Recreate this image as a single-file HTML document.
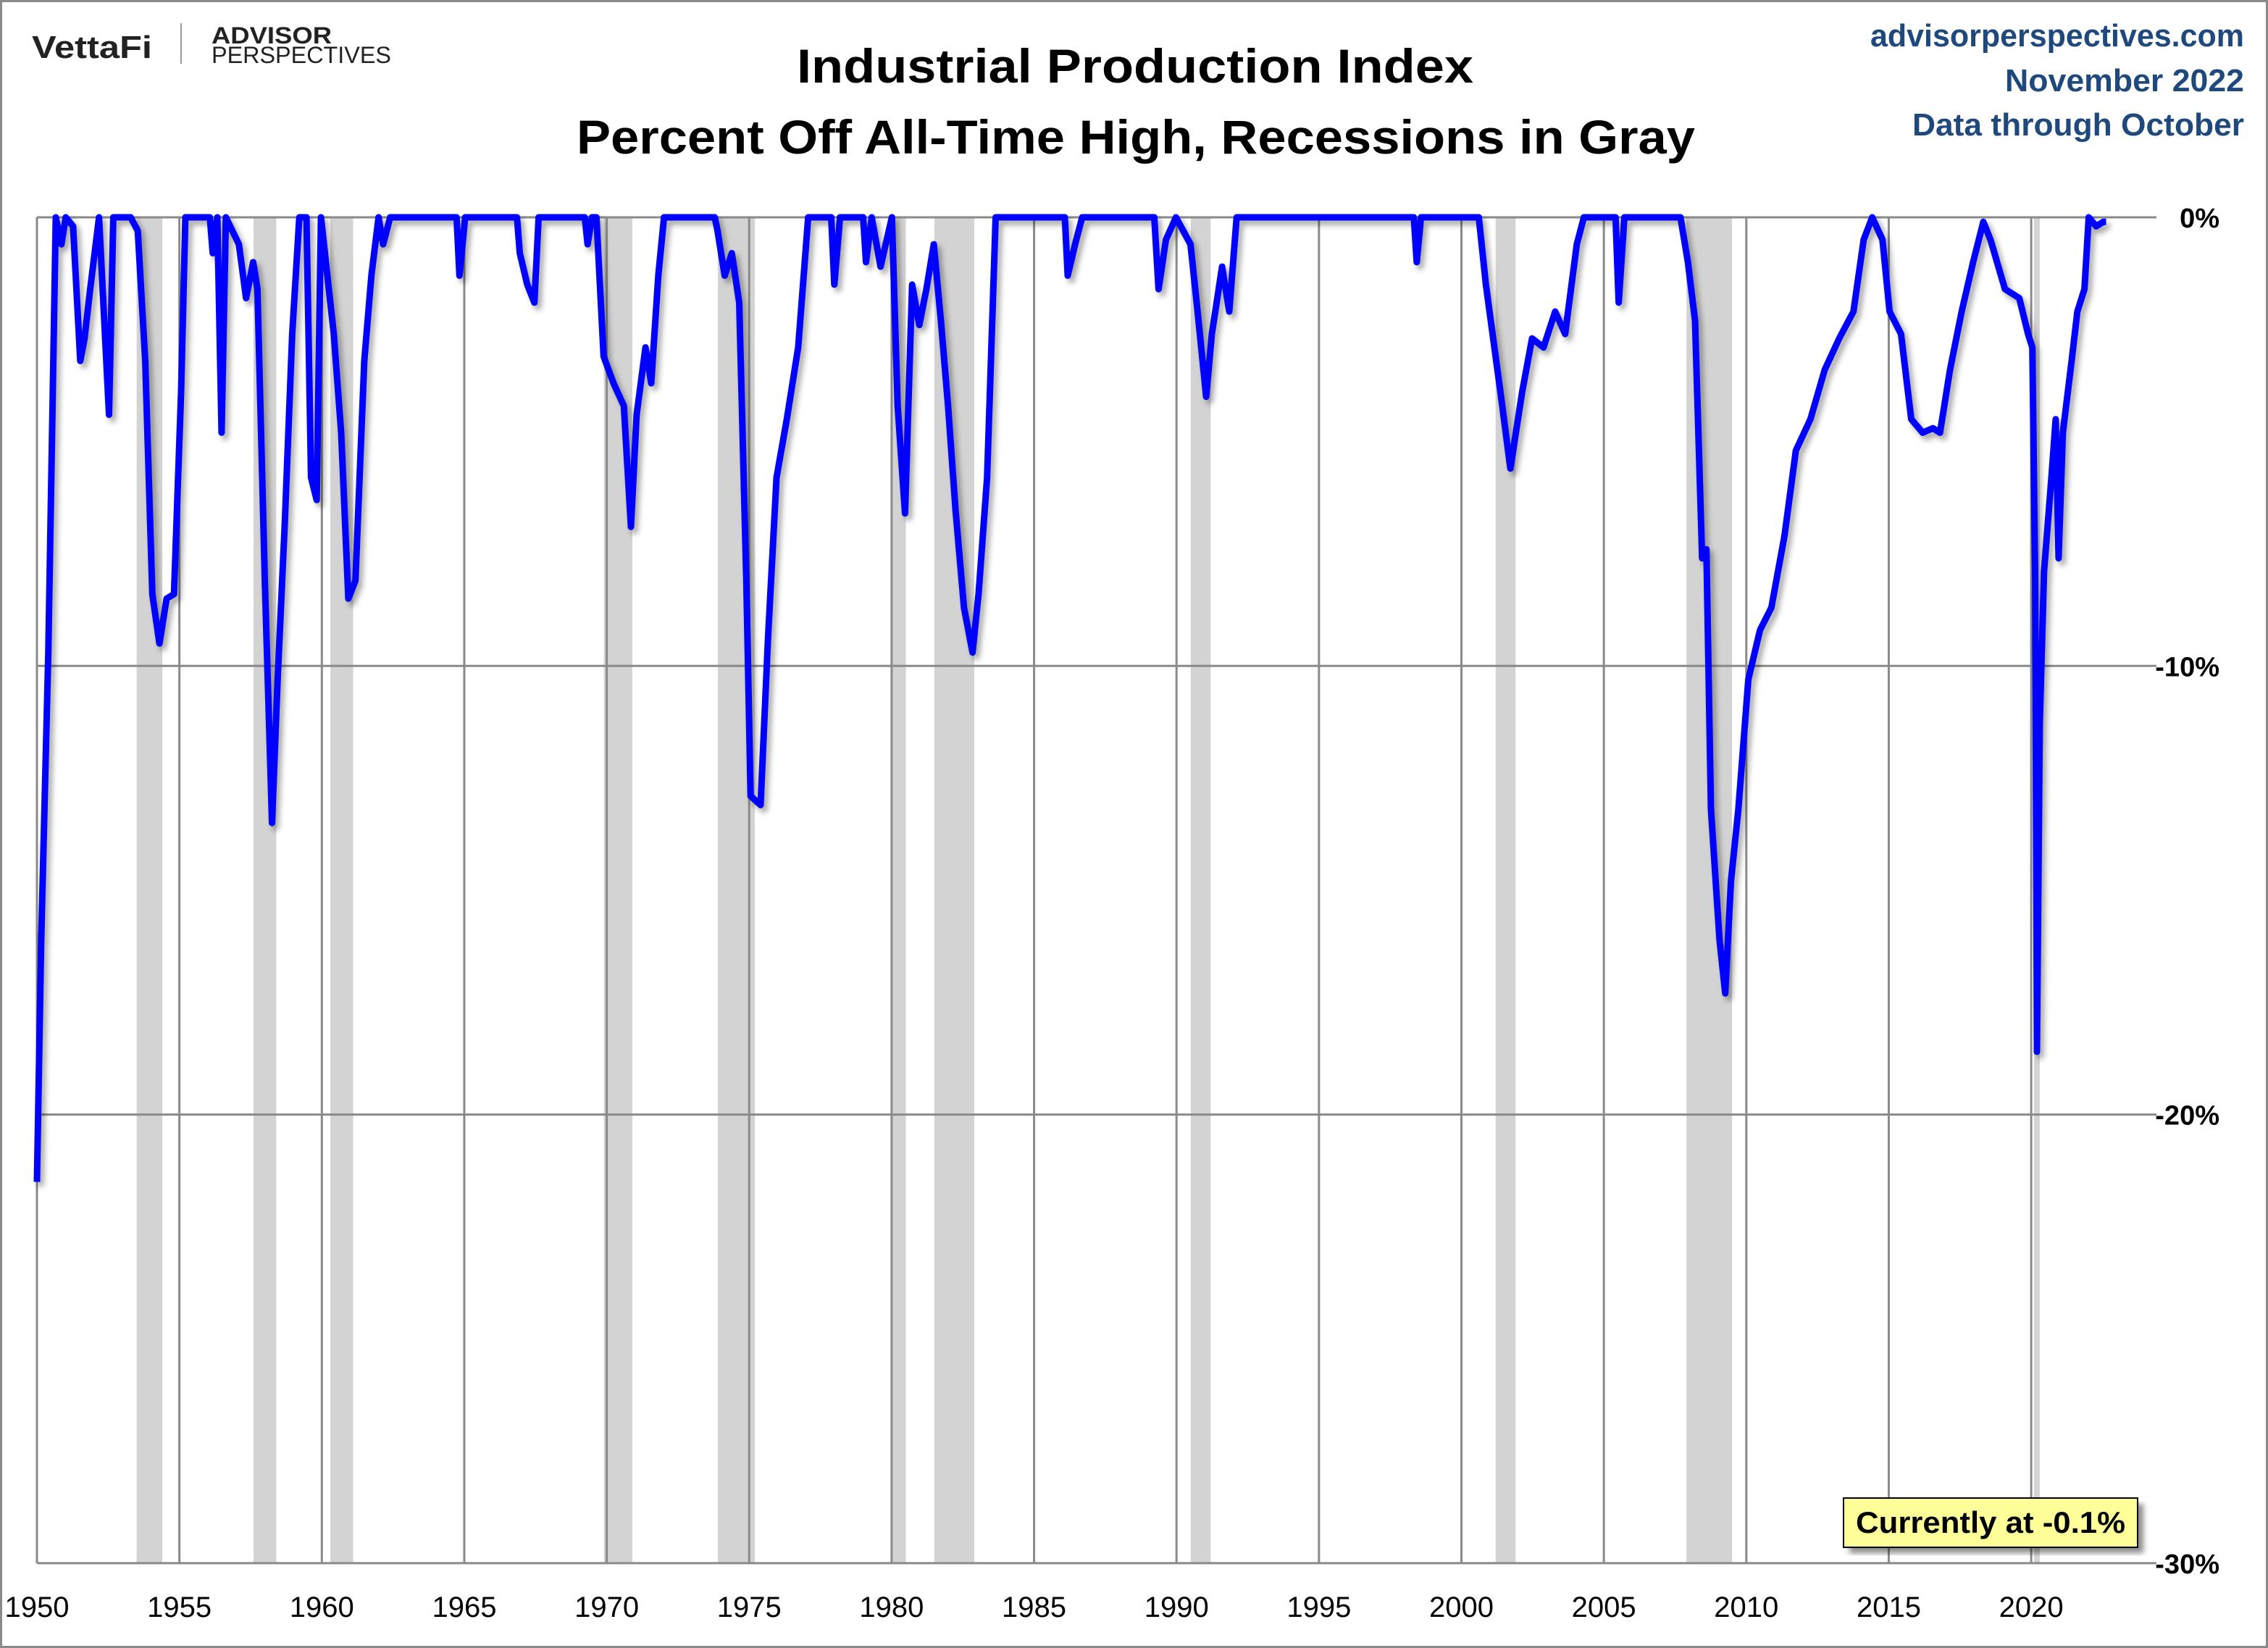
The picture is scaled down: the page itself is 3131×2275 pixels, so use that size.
<!DOCTYPE html>
<html><head><meta charset="utf-8"><style>
html,body{margin:0;padding:0;background:#fff}
svg{display:block}
text{font-family:"Liberation Sans Narrow","Liberation Sans",sans-serif}
</style></head><body>
<svg id="chart" width="3131" height="2275" viewBox="0 0 3131 2275" xmlns="http://www.w3.org/2000/svg">
<defs><filter id="sh" x="-5%" y="-5%" width="110%" height="110%"><feGaussianBlur stdDeviation="4"/></filter></defs>
<rect x="1.5" y="1.5" width="3128" height="2272" fill="#fff" stroke="#8a8a8a" stroke-width="3"/>
<g>
<text x="44" y="80" font-size="44" font-weight="bold" fill="#222" textLength="166" lengthAdjust="spacingAndGlyphs">VettaFi</text>
<line x1="250" y1="32" x2="250" y2="88" stroke="#999" stroke-width="2"/>
<text x="292" y="60" font-size="32" font-weight="bold" fill="#222" textLength="166" lengthAdjust="spacingAndGlyphs">ADVISOR</text>
<text x="292" y="87" font-size="32" fill="#222" textLength="248" lengthAdjust="spacingAndGlyphs">PERSPECTIVES</text>
</g>
<text x="1567" y="114" font-size="66" font-weight="bold" text-anchor="middle" textLength="934" lengthAdjust="spacingAndGlyphs">Industrial Production Index</text>
<text x="1568" y="212" font-size="66" font-weight="bold" text-anchor="middle" textLength="1544" lengthAdjust="spacingAndGlyphs">Percent Off All-Time High, Recessions in Gray</text>
<text x="3098" y="64" font-size="44" font-weight="bold" fill="#1f497d" text-anchor="end" textLength="516" lengthAdjust="spacingAndGlyphs">advisorperspectives.com</text>
<text x="3098" y="126" font-size="44" font-weight="bold" fill="#1f497d" text-anchor="end" textLength="330" lengthAdjust="spacingAndGlyphs">November 2022</text>
<text x="3098" y="187" font-size="44" font-weight="bold" fill="#1f497d" text-anchor="end" textLength="458" lengthAdjust="spacingAndGlyphs">Data through October</text>
<g id="recessions"></g>
<g id="grid"></g>
<g id="series"></g>
<g id="labels"></g>
<g>
<rect x="2553" y="2076" width="406" height="68" fill="#000" opacity="0.45" filter="url(#sh)"/>
<rect x="2545" y="2068" width="406" height="68" fill="#ffff99" stroke="#000" stroke-width="2"/>
<text x="2748" y="2116" font-size="42" font-weight="bold" text-anchor="middle" textLength="372" lengthAdjust="spacingAndGlyphs">Currently at -0.1%</text>
</g>
</svg>
<script>
const years = [1950.00,1950.15,1950.40,1950.66,1950.86,1951.01,1951.27,1951.52,1951.67,1951.87,1952.18,1952.53,1952.68,1953.29,1953.54,1953.80,1954.05,1954.30,1954.55,1954.81,1955.06,1955.21,1956.07,1956.17,1956.33,1956.48,1956.63,1957.09,1957.34,1957.59,1957.74,1958.00,1958.25,1958.45,1958.70,1958.96,1959.21,1959.46,1959.62,1959.82,1959.97,1960.42,1960.68,1960.93,1961.18,1961.49,1961.74,1961.99,1962.15,1962.40,1964.73,1964.83,1965.03,1966.85,1966.95,1967.21,1967.46,1967.61,1969.23,1969.33,1969.48,1969.64,1969.89,1970.24,1970.60,1970.85,1971.05,1971.36,1971.56,1971.81,1972.01,1973.79,1973.89,1974.14,1974.39,1974.65,1974.90,1975.05,1975.40,1975.66,1975.96,1976.32,1976.72,1977.07,1977.88,1977.99,1978.19,1979.00,1979.10,1979.30,1979.61,1980.01,1980.21,1980.47,1980.72,1980.97,1981.22,1981.48,1981.73,1981.98,1982.24,1982.54,1982.84,1983.05,1983.35,1983.65,1986.08,1986.18,1986.44,1986.69,1989.22,1989.37,1989.63,1989.98,1990.49,1990.74,1991.04,1991.24,1991.60,1991.85,1992.11,1998.33,1998.43,1998.58,2000.61,2000.86,2001.37,2001.72,2002.13,2002.48,2002.88,2003.29,2003.64,2004.05,2004.30,2005.41,2005.52,2005.72,2007.69,2007.95,2008.20,2008.45,2008.60,2008.76,2009.06,2009.26,2009.46,2009.72,2010.07,2010.48,2010.88,2011.34,2011.74,2012.25,2012.75,2013.26,2013.76,2014.12,2014.42,2014.78,2015.03,2015.43,2015.79,2016.19,2016.55,2016.80,2017.15,2017.56,2017.96,2018.32,2018.57,2019.08,2019.58,2019.89,2020.04,2020.14,2020.20,2020.30,2020.45,2020.71,2020.86,2020.96,2021.11,2021.42,2021.62,2021.87,2022.02,2022.28,2022.53,2022.63];
const pctOffHigh = [-21.5,-16.1,-9.7,0,-0.6,0,-0.2,-3.2,-2.7,-1.6,0,-4.4,0,0,-0.3,-3.2,-8.4,-9.5,-8.5,-8.4,-3.9,0,0,-0.8,0,-4.8,0,-0.6,-1.8,-1.0,-1.6,-8.1,-13.5,-10.3,-6.8,-2.6,0,0,-5.8,-6.3,0,-2.6,-4.8,-8.5,-8.1,-3.2,-1.3,0,-0.6,0,0,-1.3,0,0,-0.8,-1.5,-1.9,0,0,-0.6,0,0,-3.1,-3.7,-4.2,-6.9,-4.4,-2.9,-3.7,-1.3,0,0,-0.3,-1.3,-0.8,-1.9,-8.1,-12.9,-13.1,-9.4,-5.8,-4.5,-2.9,0,0,-1.5,0,0,-1.0,0,-1.1,0,-4.2,-6.6,-1.5,-2.4,-1.6,-0.6,-2.3,-4.2,-6.5,-8.7,-9.7,-8.4,-5.8,0,0,-1.3,-0.6,0,0,-1.6,-0.5,0,-0.6,-2.1,-4.0,-2.6,-1.1,-2.1,0,0,-1.0,0,0,-1.5,-3.9,-5.6,-3.9,-2.7,-2.9,-2.1,-2.6,-0.6,0,0,-1.9,0,0,-1.0,-2.3,-7.6,-7.4,-13.2,-16.1,-17.3,-14.8,-13.2,-10.3,-9.2,-8.7,-7.1,-5.2,-4.5,-3.4,-2.7,-2.1,-0.5,0,-0.5,-2.1,-2.6,-4.5,-4.8,-4.7,-4.8,-3.4,-2.1,-1.0,-0.1,-0.5,-1.6,-1.8,-2.6,-2.9,-8.1,-18.6,-11.3,-7.9,-5.8,-4.5,-7.6,-4.8,-3.2,-2.1,-1.6,0,-0.2,-0.1,-0.1];
const recessionStarts = [1953.5,1957.6,1960.3,1969.9,1973.9,1980.0,1981.5,1990.5,2001.2,2007.9,2020.1];
const recessionEnds = [1954.4,1958.4,1961.1,1970.9,1975.2,1980.5,1982.9,1991.2,2001.9,2009.5,2020.3];
const xTickYears = [1950,1955,1960,1965,1970,1975,1980,1985,1990,1995,2000,2005,2010,2015,2020];
const yTickValues = [0,-10,-20,-30];
const yTickLabels = ["0%","-10%","-20%","-30%"];

const NS="http://www.w3.org/2000/svg";
const X0=51, XPY=39.33, Y0=300, YPP=61.93, XR=2977;
const xs=y=>X0+(y-1950)*XPY;
const ys=v=>Y0-v*YPP;
function mk(tag,attrs,parent){const e=document.createElementNS(NS,tag);for(const k in attrs)e.setAttribute(k,attrs[k]);parent.appendChild(e);return e;}
const gR=document.getElementById('recessions'),gG=document.getElementById('grid'),gS=document.getElementById('series'),gL=document.getElementById('labels');
recessionStarts.forEach((s,i)=>{
  const r=mk('rect',{x:xs(s),y:Y0,width:xs(recessionEnds[i])-xs(s),height:ys(-30)-Y0,fill:'#d3d3d3'},gR);
  
  
});
xTickYears.forEach(yr=>{
  const l=mk('line',{x1:xs(yr),y1:Y0,x2:xs(yr),y2:ys(-30),stroke:'#8a8a8a','stroke-width':3},gG);
  
  
  const t=mk('text',{x:xs(yr),y:2232,'font-size':40,'text-anchor':'middle'},gL);
  t.textContent=yr;
  
  
});
yTickValues.forEach((v,i)=>{
  const l=mk('line',{x1:X0,y1:ys(v),x2:XR,y2:ys(v),stroke:'#8a8a8a','stroke-width':3},gG);
  
  
  const t=mk('text',{x:3064,y:ys(v)+14,'font-size':38,'font-weight':'bold','text-anchor':'end'},gL);
  t.textContent=yTickLabels[i];
  
  
});
const ax=mk('line',{x1:X0,y1:Y0,x2:X0,y2:ys(-30),stroke:'#8a8a8a','stroke-width':3},gG);


const d=years.map((y,i)=>(i?'L':'M')+xs(y).toFixed(1)+' '+ys(pctOffHigh[i]).toFixed(1)).join(' ');
const sh=mk('path',{d:d,fill:'none',stroke:'#000',opacity:0.35,'stroke-width':9,transform:'translate(5,6)',filter:'url(#sh)','stroke-linejoin':'round'},gS);


const p=mk('path',{d:d,fill:'none',stroke:'#0000ff','stroke-width':9,'stroke-linejoin':'round'},gS);


</script>
</body></html>
